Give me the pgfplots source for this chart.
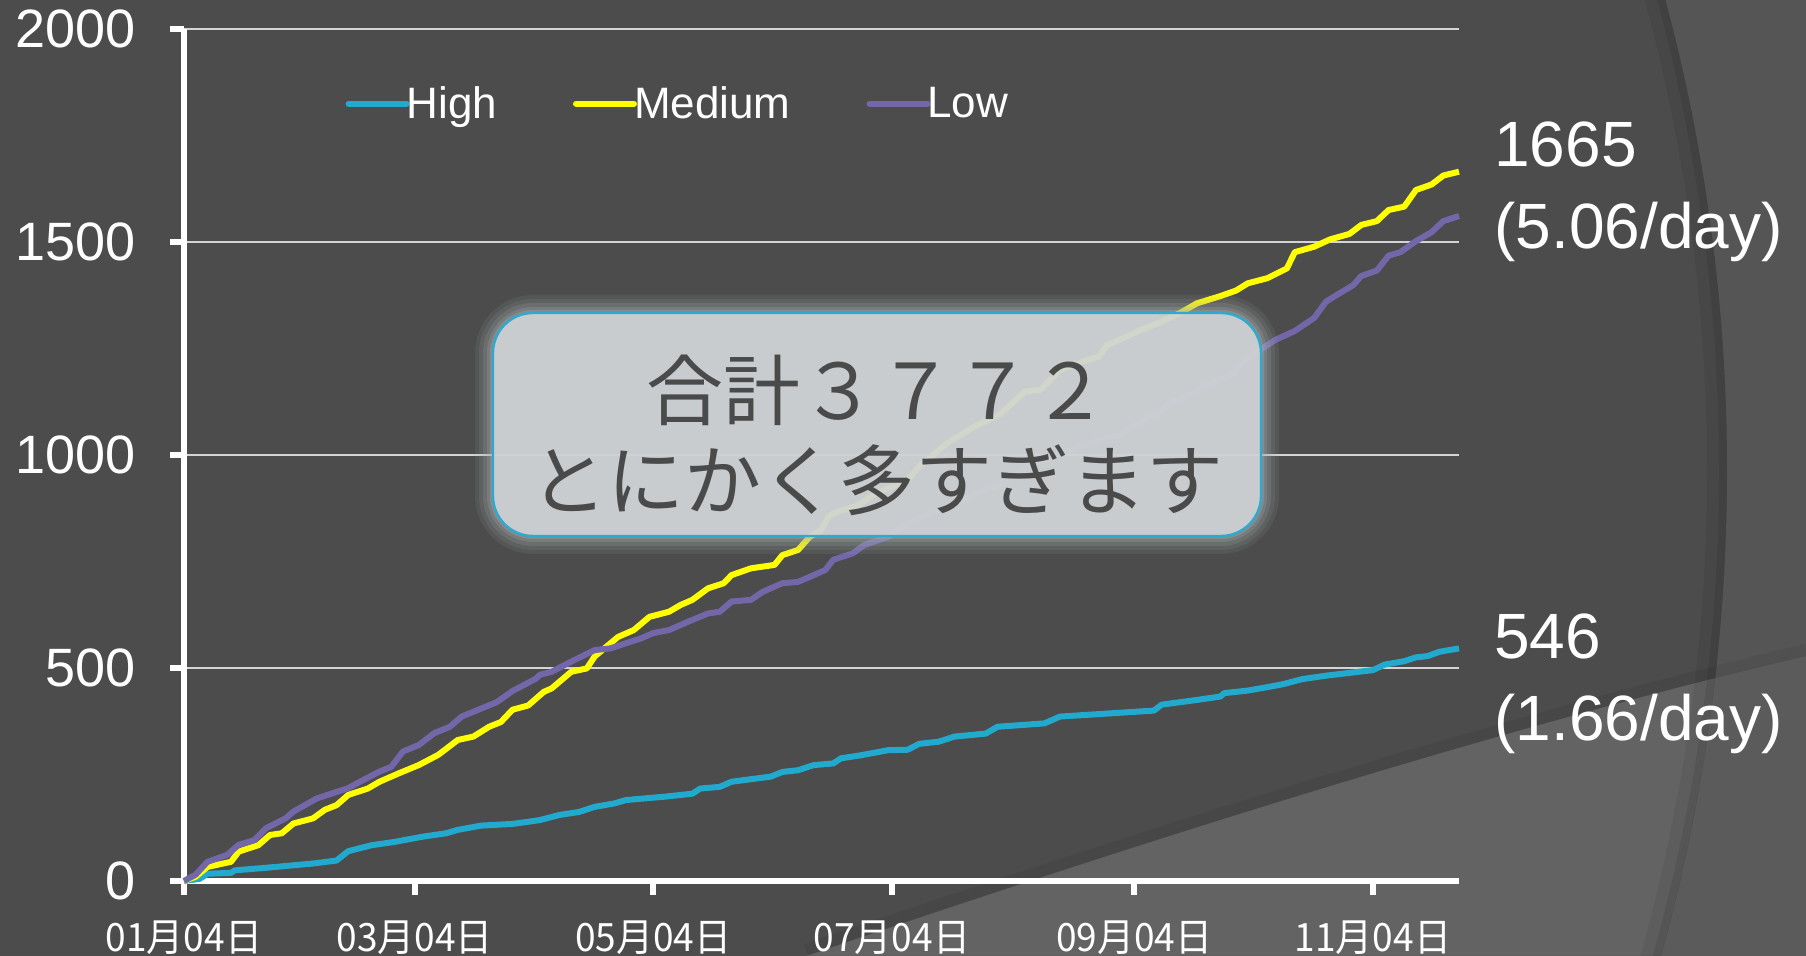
\documentclass[border=0pt]{standalone}
\usepackage{pgfplots}
\pgfplotsset{compat=1.18}
\usepackage{fontspec}
\setmainfont{Liberation Sans}
\newfontfamily\cjk[FakeStretch=0.95]{Noto Sans CJK JP}
\newfontfamily\cjkbox{Noto Sans CJK JP}
\definecolor{bgc}{HTML}{4C4C4C}
\definecolor{wedgec}{HTML}{636363}
\definecolor{outtop}{HTML}{555555}
\definecolor{outbot}{HTML}{5B5B5B}
\definecolor{gridc}{HTML}{D4D4D4}
\definecolor{highc}{RGB}{33,170,206}
\definecolor{medc}{RGB}{255,255,0}
\definecolor{lowc}{RGB}{115,103,170}
\definecolor{boxfill}{HTML}{D3D7D9}
\definecolor{glowc}{HTML}{A9AFB1}
\definecolor{boxedge}{HTML}{2EA9CF}
\definecolor{boxtext}{HTML}{4A4A4A}

\pgfplotstableread{
day val
0 0
4 5
6 17
12 19
13 25
21 31
33 41
39 48
42 70
48 84
54 92
61 104
67 112
70 120
76 130
84 134
88 139
91 143
96 155
101 162
105 174
110 182
113 190
123 198
130 205
132 217
137 221
140 233
145 239
150 245
153 256
157 260
161 272
166 276
168 288
173 295
180 307
185 308
188 322
193 327
197 339
205 346
208 362
220 370
224 386
236 393
248 400
250 414
259 425
265 433
266 441
272 447
277 455
281 462
286 474
292 482
304 495
307 508
312 516
315 525
318 528
321 538
326 546
}\highdata

\pgfplotstableread{
day val
0 0
3 10
6 33
12 45
14 69
19 84
22 108
25 112
28 135
33 147
36 167
39 178
42 202
47 217
50 233
55 253
60 272
65 296
70 331
74 339
78 362
81 373
84 402
88 412
92 444
94 452
99 491
103 499
105 527
111 573
115 589
119 620
124 632
127 648
130 660
134 687
138 699
140 718
145 734
151 742
153 765
157 777
160 808
163 825
165 858
168 870
172 880
177 910
185 941
188 973
195 1027
200 1055
202 1066
209 1098
215 1149
219 1153
224 1200
231 1223
234 1231
236 1258
239 1270
244 1291
249 1309
253 1326
255 1335
259 1356
265 1373
269 1386
272 1403
277 1415
282 1438
284 1476
289 1489
293 1506
298 1519
301 1540
305 1549
308 1575
312 1583
315 1622
319 1635
322 1656
326 1665
}\meddata

\pgfplotstableread{
day val
0 0
3 15
6 45
11 61
14 85
18 96
21 124
26 147
28 163
34 194
42 218
45 233
50 257
53 268
56 304
60 319
64 347
68 362
71 386
75 401
80 420
84 446
90 475
91 484
94 491
99 515
105 542
109 546
117 570
120 582
124 589
129 609
134 628
137 632
140 656
145 660
148 679
153 699
157 702
161 718
164 730
166 754
171 769
174 789
180 808
185 840
191 863
197 879
202 910
207 925
212 949
217 981
222 996
229 1020
234 1035
239 1047
244 1076
249 1098
252 1121
257 1142
262 1168
268 1189
272 1228
279 1270
284 1291
289 1322
292 1360
295 1377
299 1399
301 1420
305 1433
308 1468
311 1476
315 1502
319 1523
322 1549
326 1561
}\lowdata

\begin{document}
\begin{tikzpicture}
% ---------- background ----------
\begin{scope}
\clip (-92pt,-37.5pt) rectangle (811pt,440.5pt);
\fill[bgc] (-92pt,-37.5pt) rectangle (811pt,440.5pt);
\fill[wedgec] (311pt,-37.5pt) .. controls (450pt,10pt) and (650pt,75pt) .. (811pt,112.5pt) -- (811pt,-37.5pt) -- cycle;
\fill[outtop, even odd rule] (-92pt,-37.5pt) rectangle (811pt,440.5pt) (-134.5pt,205.5pt) circle (906pt);
\begin{scope}
\clip (311pt,-37.5pt) .. controls (450pt,10pt) and (650pt,75pt) .. (811pt,112.5pt) -- (811pt,-37.5pt) -- cycle;
\fill[outbot, even odd rule] (-92pt,-37.5pt) rectangle (811pt,440.5pt) (-134.5pt,205.5pt) circle (906pt);
\end{scope}
\draw[black, opacity=0.06, line width=10pt] (-134.5pt,205.5pt) circle (901pt);
\draw[black, opacity=0.08, line width=4pt] (-134.5pt,205.5pt) circle (904pt);
\draw[black, opacity=0.06, line width=6pt] (311pt,-34.5pt) .. controls (450pt,13pt) and (650pt,78pt) .. (811pt,115.5pt);
\end{scope}

% ---------- chart ----------
\begin{axis}[
  at={(0pt,0pt)}, anchor=south west,
  scale only axis, width=637.5pt, height=426pt,
  xmin=0, xmax=326, ymin=0, ymax=2000,
  axis lines=left,
  axis line style={-, white, line width=3pt},
  every outer x axis line/.append style={-, white, line width=3pt},
  every outer y axis line/.append style={-, white, line width=3pt},
  tick align=outside,
  major tick length=7pt,
  major tick style={white, line width=3pt},
  tick style={white, line width=3pt},
  ytick={0,500,1000,1500,2000},
  xtick={0,59,120,181,243,304},
  xticklabels={01月04日,03月04日,05月04日,07月04日,09月04日,11月04日},
  xticklabel style={font=\cjk\fontsize{19.5}{22}\selectfont, text=white, anchor=base, inner sep=0pt, yshift=-28.5pt},
  yticklabel style={font=\fontsize{27}{30}\selectfont, text=white, anchor=east, inner sep=0pt, xshift=-17pt},
  /pgf/number format/assume math mode=true,
  /pgf/number format/1000 sep={},
  scaled y ticks=false,
  ymajorgrids,
  major grid style={gridc, line width=1.1pt},
  clip=false,
  legend columns=-1,
  legend image code/.code={\draw[#1, line cap=round] (0pt,0pt) -- (29pt,0pt);},
  legend style={at={(0.1267,0.9124)}, anchor=west, draw=none, fill=none,
    inner sep=0pt, outer sep=0pt,
    font=\fontsize{22}{26}\selectfont, text=white,
    nodes={inner sep=0pt, text=white},
    /tikz/every odd column/.style={column sep=-1.5pt},
    /tikz/every even column/.style={column sep=38pt}},
  every axis plot/.append style={line width=3pt, line join=round},
]
\addplot[highc, no markers] table[x=day, y=val] {\highdata};
\addlegendentry{High}
\addplot[medc, no markers] table[x=day, y=val] {\meddata};
\addlegendentry{Medium}
\addplot[lowc, no markers] table[x=day, y=val] {\lowdata};
\addlegendentry{Low}
\end{axis}

% ---------- annotation box ----------
\foreach \e/\o in {9/0.10, 7/0.13, 5/0.17, 3/0.22, 1.5/0.3} {
  \fill[glowc, opacity=\o, rounded corners=20pt+\e pt]
    (154.5pt-\e pt,172.5pt-\e pt) rectangle (538.5pt+\e pt,284pt+\e pt);
}
\fill[boxfill, opacity=0.86, rounded corners=20pt] (154.5pt,172.5pt) rectangle (538.5pt,284pt);
\draw[boxedge, line width=1.2pt, rounded corners=20pt] (154.5pt,172.5pt) rectangle (538.5pt,284pt);
\node[font=\cjkbox\fontsize{38.5}{45}\selectfont, text=boxtext, align=center, inner sep=0pt]
  at (346.5pt,223pt) {合計３７７２\\とにかく多すぎます};

% ---------- right annotations ----------
\node[anchor=base west, inner sep=0pt, text=white, font=\fontsize{32}{36}\selectfont] at (655pt,357.2pt) {1665};
\node[anchor=base west, inner sep=0pt, text=white, font=\fontsize{32}{36}\selectfont] at (655pt,316pt) {(5.06/day)};
\node[anchor=base west, inner sep=0pt, text=white, font=\fontsize{32}{36}\selectfont] at (655pt,111.2pt) {546};
\node[anchor=base west, inner sep=0pt, text=white, font=\fontsize{32}{36}\selectfont] at (655pt,70pt) {(1.66/day)};

\pgfresetboundingbox
\path[use as bounding box] (-92pt,-37.5pt) rectangle (811pt,440.5pt);
\end{tikzpicture}
\end{document}
